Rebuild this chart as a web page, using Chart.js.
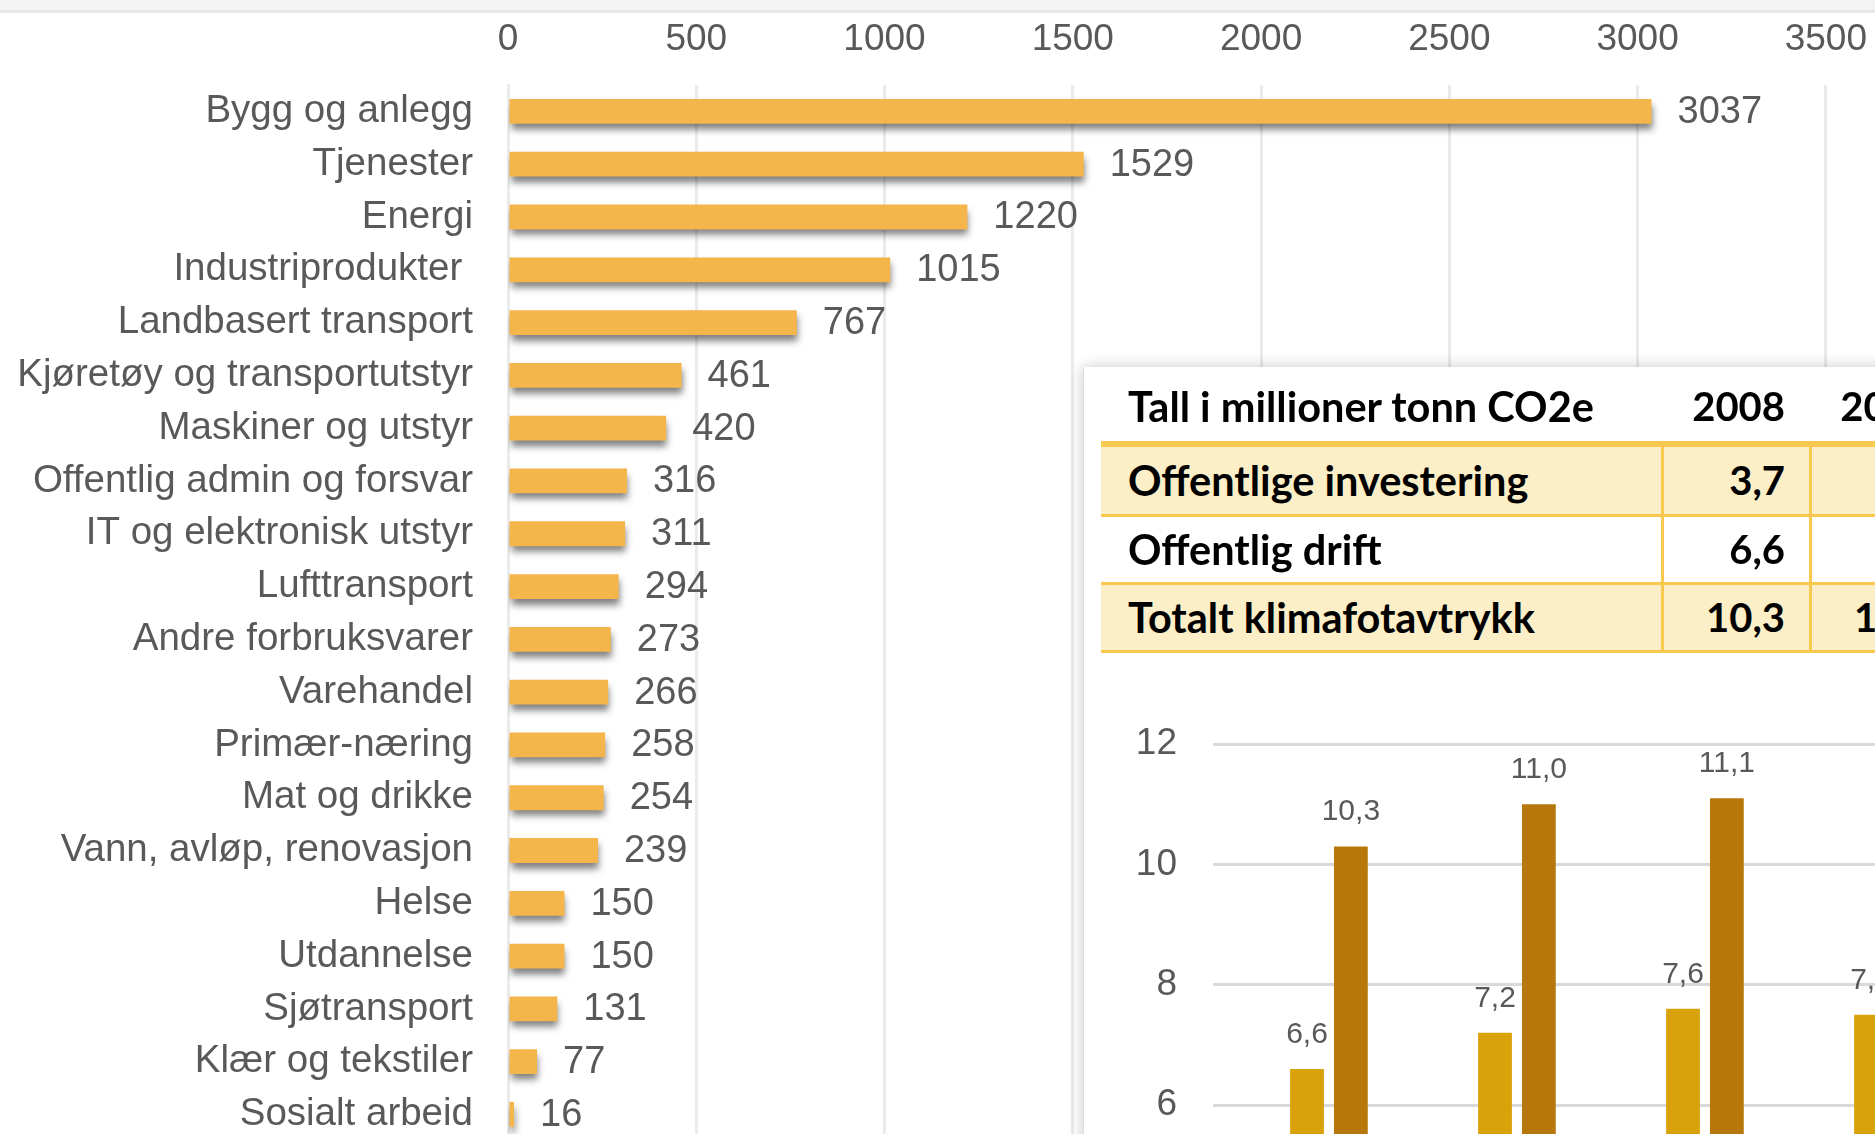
<!DOCTYPE html>
<html><head><meta charset="utf-8">
<script src="https://cdn.jsdelivr.net/npm/chart.js@4.4.1/dist/chart.umd.min.js"></script>
<style>
html,body{margin:0;padding:0;width:1875px;height:1134px;overflow:hidden;background:#fff;}
#main{position:absolute;left:0;top:0;}
#topband{position:absolute;left:0;top:0;width:1875px;height:10px;background:#f3f3f3;border-bottom:3px solid #e8e8e8;}
#panel{position:absolute;left:1083px;top:367px;width:1000px;height:900px;background:#fff;box-shadow:0 0 14px rgba(0,0,0,0.22);border-left:1px solid #dedede;}
#tbl{position:absolute;left:0;top:0;}
#inset{position:absolute;left:1100px;top:686px;}
.cell{position:absolute;font-family:Lato,'Noto Sans',sans-serif;font-weight:700;font-size:40px;color:#000;white-space:nowrap;}
.cell.txt{font-size:41.5px;}
.blk{position:absolute;}
</style></head><body>
<canvas id="main" width="1890" height="1199"></canvas>
<div id="topband"></div>
<div id="panel"></div>
<div id="tbl"></div>
<canvas id="inset" width="900" height="838"></canvas>
<script>
// ---- main chart data ----
const categories = ['Bygg og anlegg','Tjenester','Energi','Industriprodukter ','Landbasert transport','Kjøretøy og transportutstyr','Maskiner og utstyr','Offentlig admin og forsvar','IT og elektronisk utstyr','Lufttransport','Andre forbruksvarer','Varehandel','Primær-næring','Mat og drikke','Vann, avløp, renovasjon','Helse','Utdannelse','Sjøtransport','Klær og tekstiler','Sosialt arbeid'];
const values = [3037,1529,1220,1015,767,461,420,316,311,294,273,266,258,254,239,150,150,131,77,16];
const xTickValues = [0,500,1000,1500,2000,2500,3000,3500];

// ---- table / inset data ----
const tableTitle = 'Tall i millioner tonn CO2e';
const years = ['2008','2009','2010','2011'];
const rowLabels = ['Offentlige investering','Offentlig drift','Totalt klimafotavtrykk'];
const investering = [3.7,3.8,3.5,null];
const drift = [6.6,7.2,7.6,7.5];
const totalt = [10.3,11.0,11.1,null];
const insetTickValues = [0,2,4,6,8,10,12];

const fmt = v => v.toFixed(1).replace('.', ',');
const FONT = 'Liberation Sans, Arial, sans-serif';
const GRAY = '#595959';

const shadowPlugin = {
  id:'barShadow',
  beforeDatasetsDraw(chart,args,opts){ if(!opts.on) return; const c=chart.ctx; c.save(); c.shadowColor='rgba(0,0,0,0.5)'; c.shadowBlur=7; c.shadowOffsetY=6; c.shadowOffsetX=1; },
  afterDatasetsDraw(chart,args,opts){ if(!opts.on) return; chart.ctx.restore(); }
};
const valueLabels = {
  id:'valueLabels',
  afterDatasetsDraw(chart,args,opts){
    const ctx=chart.ctx; ctx.save();
    ctx.font = opts.size+'px '+FONT; ctx.fillStyle = GRAY;
    chart.data.datasets.forEach((ds,i)=>{
      const meta = chart.getDatasetMeta(i);
      meta.data.forEach((el,j)=>{
        const v = ds.data[j]; if(v==null) return;
        if(opts.horizontal){ ctx.textAlign='left'; ctx.textBaseline='middle'; ctx.fillText(String(v), el.x+26, el.y+1); }
        else { ctx.textAlign='center'; ctx.textBaseline='alphabetic'; ctx.fillText(fmt(v), el.x, el.y-26); }
      });
    });
    ctx.restore();
  }
};

new Chart(document.getElementById('main'), {
  type:'bar',
  data:{labels:categories, datasets:[{data:values, backgroundColor:'#F4B54A', barPercentage:0.47, categoryPercentage:1}]},
  options:{
    indexAxis:'y', responsive:false, animation:false,
    layout:{padding:0},
    plugins:{legend:{display:false}, tooltip:{enabled:false}, barShadow:{on:true}, valueLabels:{horizontal:true,size:38}},
    scales:{
      x:{position:'top', min:xTickValues[0], max:xTickValues[xTickValues.length-1],
         afterBuildTicks(s){ s.ticks = xTickValues.map(v=>({value:v})); },
         ticks:{font:{family:FONT,size:37}, color:GRAY, padding:23, callback:v=>String(v)},
         grid:{color:'#ebebeb', lineWidth:3, drawTicks:false}, border:{display:false},
         afterFit(s){ s.height=85; }},
      y:{ticks:{font:{family:FONT,size:38.5}, color:GRAY, padding:35, autoSkip:false},
         grid:{display:false, drawTicks:false}, border:{display:true,color:'#ebebeb',width:3},
         afterFit(s){ s.width=508; }}
    }
  },
  plugins:[shadowPlugin, valueLabels]
});

// ---- table ----
const tbl = document.getElementById('tbl');
function blk(l,t,w,h,bg){ const d=document.createElement('div'); d.className='blk'; Object.assign(d.style,{left:l+'px',top:t+'px',width:w+'px',height:h+'px',background:bg}); tbl.appendChild(d); }
function cell(text,l,t,w,h,align,cls){ const d=document.createElement('div'); d.className='cell'+(cls?' '+cls:''); d.textContent=text; Object.assign(d.style,{left:l+'px',top:t+'px',width:w+'px',height:h+'px',lineHeight:h+'px',textAlign:align}); tbl.appendChild(d); }
const tLeft=1101, col1W=561, colW=148, pad=27;
const lineY=[441,514,582,650], lineH=[6,3,3,3];
const LINE='#F8C94E', FILL='#FCEEC6';
const totalW = col1W + colW*years.length;
cell(tableTitle, tLeft+pad, 372, col1W, 68, 'left', 'txt');
years.forEach((y,k)=> cell(y, tLeft+col1W+colW*k, 372, colW-25, 68, 'right'));
const series=[investering,drift,totalt];
rowLabels.forEach((lab,i)=>{
  const top=lineY[i]+lineH[i], h=lineY[i+1]-top;
  if(i%2===0) blk(tLeft, top, totalW, h, FILL);
  cell(lab, tLeft+pad, top, col1W, h, 'left', 'txt');
  series[i].forEach((v,k)=>{ if(v!=null) cell(fmt(v), tLeft+col1W+colW*k, top, colW-25, h, 'right'); });
});
lineY.forEach((y,i)=> blk(tLeft, y, totalW, lineH[i], LINE));
for(let k=0;k<years.length;k++) blk(tLeft+col1W+colW*k-1, lineY[0], 3, lineY[3]+3-lineY[0], LINE);

// ---- inset chart ----
new Chart(document.getElementById('inset'), {
  type:'bar',
  data:{labels:years, datasets:[
    {label:rowLabels[0], data:investering, backgroundColor:'#F2C75C'},
    {label:rowLabels[1], data:drift, backgroundColor:'#D9A20A'},
    {label:rowLabels[2], data:totalt, backgroundColor:'#B7770B'}]},
  options:{
    responsive:false, animation:false,
    layout:{padding:{top:0,right:35,bottom:0,left:0}},
    datasets:{bar:{categoryPercentage:0.70, barPercentage:0.77}},
    plugins:{legend:{display:false}, tooltip:{enabled:false}, barShadow:{on:false}, valueLabels:{horizontal:false,size:30}},
    scales:{
      x:{display:false},
      y:{min:0, max:12, afterBuildTicks(s){ s.ticks = insetTickValues.map(v=>({value:v})); },
         ticks:{font:{family:FONT,size:37}, color:GRAY, padding:36},
         grid:{color:'#d9d9d9', lineWidth:3, drawTicks:false}, border:{display:false},
         afterFit(s){ s.width=113; }}
    }
  },
  plugins:[shadowPlugin, valueLabels]
});
</script>
</body></html>
